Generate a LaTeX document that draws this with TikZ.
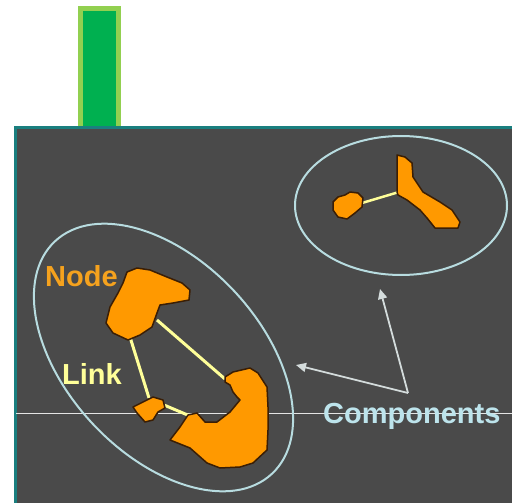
\documentclass[tikz,border=0pt]{standalone}
\usepackage{fontspec}
\setmainfont{Liberation Sans}
\usetikzlibrary{arrows.meta}
\definecolor{panel}{HTML}{4A4A4A}
\definecolor{panelrim}{HTML}{1A7F7F}
\definecolor{barfill}{HTML}{00B050}
\definecolor{barrim}{HTML}{92D050}
\definecolor{blob}{HTML}{FF9900}
\definecolor{blobrim}{HTML}{3A1E05}
\definecolor{linkcol}{HTML}{FFFF99}
\definecolor{ringcol}{HTML}{B8DCE0}
\definecolor{nodetext}{HTML}{F5A21E}
\definecolor{comptext}{HTML}{BDE4EC}
\definecolor{pointer}{HTML}{D4DCDC}
\begin{document}
\begin{tikzpicture}[x=1pt,y=-1pt,
  blobshape/.style={fill=blob,draw=blobrim,line width=1.5pt,line join=round},
  linkline/.style={draw=linkcol,line width=3pt},
  ring/.style={draw=ringcol,line width=2pt},
  label/.style={font=\bfseries\fontsize{29}{29}\selectfont,inner sep=0pt},
  pointerarrow/.style={draw=pointer,line width=1.8pt,-{Triangle[length=10pt,width=9pt]}}]
\useasboundingbox (0,0) rectangle (512,503);
\fill[white] (0,0) rectangle (512,503);
% green bar above the panel
\fill[barrim] (78,6) rectangle (121,130);
\fill[barfill] (83,11) rectangle (116,130);
% dark panel
\fill[panelrim] (14,126) rectangle (512,503);
\fill[panel] (17,129) rectangle (512,503);
% thin rule across the panel
\draw[white!80!gray,line width=0.8pt] (16,413) -- (512,413);

% encircling rings
\draw[ring,rotate around={-47:(163.5,357.5)}] (163.5,357.5) ellipse [x radius=159, y radius=97];
\draw[ring] (401,205.5) ellipse [x radius=106, y radius=69.5];

% link end points
\coordinate (n1a) at (130,337);
\coordinate (n1b) at (157,320);
\coordinate (n3a) at (149,398);
\coordinate (n3b) at (164,405);
\coordinate (n4a) at (225,379);
\coordinate (n4b) at (190,416);
\coordinate (s1) at (362,203);
\coordinate (s2) at (399,192);

% links
\draw[linkline] (n1a) -- (n3a);
\draw[linkline] (n1b) -- (n4a);
\draw[linkline] (n3b) -- (n4b);
\draw[linkline,line width=2.5pt] (s1) -- (s2);

% nodes of the left component
\path[blobshape] (127,272) -- (137,268) -- (150,270) -- (167,277) -- (182,283) -- (190,290)
  -- (189,300) -- (173,303) -- (160,305) -- (157,313) -- (152,327) -- (140,335) -- (128,340)
  -- (113,333) -- (106,323) -- (110,307) -- (118,293) -- (123,283) -- cycle;
\path[blobshape] (133,407) -- (143,402) -- (153,397) -- (163,400) -- (165,408) -- (158,412)
  -- (153,420) -- (145,422) -- (137,413) -- cycle;
\path[blobshape] (225,377) -- (233,372) -- (250,368) -- (258,373) -- (267,387) -- (268,407)
  -- (268,430) -- (267,450) -- (253,463) -- (240,467) -- (220,468) -- (207,463) -- (190,448)
  -- (170,440) -- (180,427) -- (188,415) -- (197,413) -- (205,422) -- (217,422) -- (230,412)
  -- (240,400) -- (237,397) -- (233,392) -- (230,385) -- (225,382) -- cycle;

% nodes of the right component
\path[blobshape] (333,202) -- (338,197) -- (345,195) -- (350,192) -- (358,193) -- (363,198)
  -- (362,207) -- (355,213) -- (347,219) -- (338,217) -- (333,210) -- cycle;
\path[blobshape] (397,155) -- (405,157) -- (412,163) -- (413,177) -- (423,192) -- (440,202)
  -- (452,210) -- (460,222) -- (458,228) -- (435,228) -- (427,218) -- (420,210) -- (407,200)
  -- (398,195) -- (397,192) -- cycle;

% labels
\node[label,text=nodetext,anchor=base west] (nodelbl) at (45,286) {Node};
\node[label,text=linkcol,anchor=base west] (linklbl) at (62,384) {Link};
\node[label,text=comptext,anchor=base west] (complbl) at (323,423) {Components};

% pointers from the label to both rings
\coordinate (fork) at (408,393);
\coordinate (tipA) at (380,289);
\coordinate (tipB) at (296,365);
\draw[pointerarrow] (fork) -- (tipA);
\draw[pointerarrow] (fork) -- (tipB);
\end{tikzpicture}
\end{document}
